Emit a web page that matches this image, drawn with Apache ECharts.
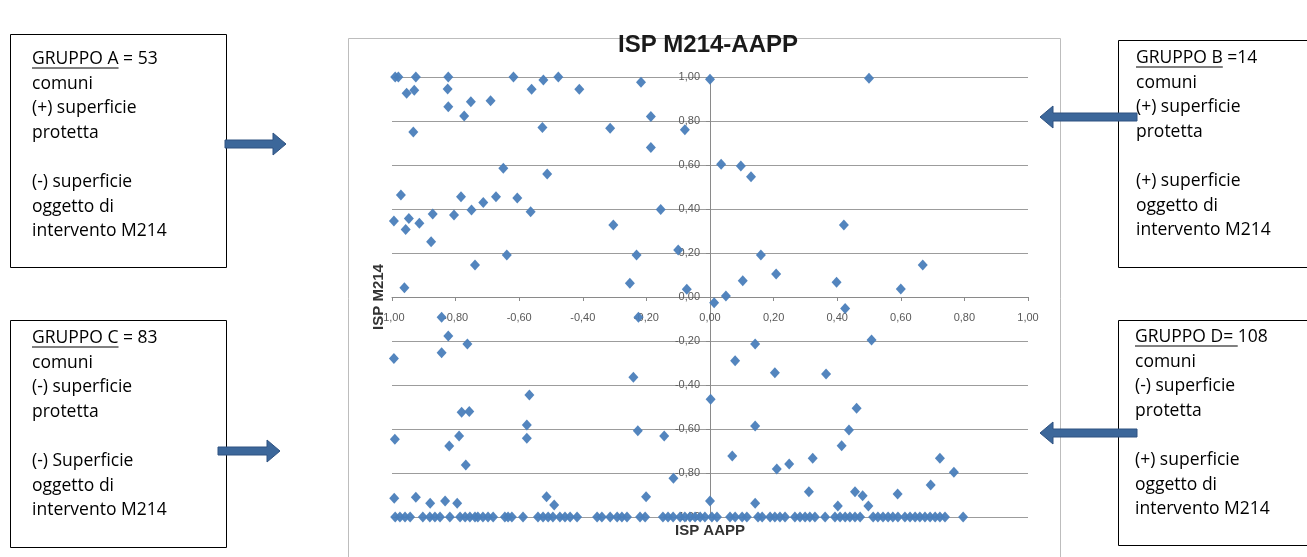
<!DOCTYPE html>
<html>
<head>
<meta charset="utf-8">
<title>ISP M214-AAPP</title>
<script src="https://cdn.jsdelivr.net/npm/echarts@6/dist/echarts.min.js"></script>
<style>
  html, body { margin: 0; padding: 0; background: #fff; }
  #main { width: 1307px; height: 557px; }
</style>
</head>
<body>
<div id="main"></div>
<script>
// valori: [ISP AAPP, ISP M214]
var gruppoA = [
  [-0.99, 1.00], [-0.98, 1.00], [-0.925, 1.00], [-0.954, 0.926], [-0.93, 0.94], [-0.933, 0.75],
  [-0.823, 1.00], [-0.825, 0.945], [-0.823, 0.865], [-0.773, 0.823], [-0.752, 0.888], [-0.69, 0.892],
  [-0.618, 1.00], [-0.561, 0.944], [-0.524, 0.986], [-0.477, 1.00], [-0.527, 0.771], [-0.411, 0.944],
  [-0.65, 0.585], [-0.512, 0.559], [-0.314, 0.767], [-0.217, 0.976], [-0.186, 0.82], [-0.186, 0.68],
  [-0.079, 0.76], [-0.972, 0.464], [-0.783, 0.456], [-0.713, 0.43], [-0.673, 0.456], [-0.606, 0.45],
  [-0.75, 0.395], [-0.805, 0.373], [-0.872, 0.377], [-0.994, 0.345], [-0.947, 0.357], [-0.957, 0.307],
  [-0.914, 0.335], [-0.877, 0.251], [-0.564, 0.388], [-0.639, 0.191], [-0.739, 0.145], [-0.961, 0.042],
  [-0.155, 0.398], [-0.304, 0.327], [-0.231, 0.191], [-0.252, 0.062], [-0.1, 0.214], [-0.073, 0.035]
];
var gruppoB = [
  [0.00, 0.99], [0.50, 0.994], [0.035, 0.603], [0.097, 0.595], [0.129, 0.547], [0.421, 0.327],
  [0.16, 0.191], [0.208, 0.105], [0.103, 0.074], [0.05, 0.005], [0.398, 0.067], [0.60, 0.036],
  [0.669, 0.145]
];
var gruppoC = [
  [-0.844, -0.092], [-0.225, -0.092], [-0.823, -0.177], [-0.763, -0.214], [-0.844, -0.253],
  [-0.994, -0.279], [-0.241, -0.365], [-0.568, -0.445], [-0.781, -0.524], [-0.757, -0.521],
  [-0.576, -0.582], [-0.576, -0.642], [-0.991, -0.647], [-0.789, -0.632], [-0.82, -0.677],
  [-0.768, -0.764], [-0.227, -0.608], [-0.144, -0.632], [-0.115, -0.824], [-0.993, -0.915],
  [-0.925, -0.91], [-0.88, -0.938], [-0.833, -0.927], [-0.795, -0.938], [-0.514, -0.908],
  [-0.49, -0.945], [-0.201, -0.908]
];
var gruppoD = [
  [0.013, -0.026], [0.425, -0.052], [0.142, -0.214], [0.508, -0.195], [0.079, -0.29], [0.204, -0.344],
  [0.365, -0.35], [0.002, -0.465], [0.461, -0.506], [0.142, -0.586], [0.437, -0.605], [0.414, -0.676],
  [0.07, -0.723], [0.21, -0.782], [0.249, -0.759], [0.323, -0.733], [0.723, -0.733], [0.767, -0.797],
  [0.694, -0.855], [0.0, -0.927], [0.142, -0.938], [0.311, -0.885], [0.456, -0.885], [0.48, -0.903],
  [0.402, -0.95], [0.498, -0.95], [0.59, -0.895]
];
// comuni con ISP M214 = -1,00 (riga in basso): solo ISP AAPP
var rigaFondoX = [
  -0.99, -0.975, -0.959, -0.943, -0.903, -0.881, -0.865, -0.849, -0.818, -0.786, -0.77, -0.755,
  -0.739, -0.73, -0.714, -0.698, -0.682, -0.645, -0.635, -0.623, -0.588, -0.541, -0.525, -0.509,
  -0.494, -0.472, -0.456, -0.44, -0.418, -0.355, -0.34, -0.314, -0.292, -0.277, -0.261, -0.22,
  -0.204, -0.148, -0.132, -0.116, -0.094, -0.079, -0.063, -0.047, -0.031, -0.016,
  0.006, 0.022, 0.063, 0.079, 0.101, 0.116, 0.151, 0.164, 0.189, 0.204, 0.22, 0.236, 0.267,
  0.283, 0.299, 0.314, 0.33, 0.362, 0.393, 0.409, 0.425, 0.44, 0.456, 0.472, 0.513, 0.528,
  0.544, 0.56, 0.575, 0.591, 0.613, 0.629, 0.645, 0.66, 0.676, 0.692, 0.708, 0.723, 0.739, 0.796
];
var rigaFondoY = -1.00;

var testoA = ['GRUPPO A = 53', 'comuni', '(+) superficie', 'protetta', '', '(-) superficie', 'oggetto di', 'intervento M214'];
var testoB = ['GRUPPO B =14', 'comuni', '(+) superficie', 'protetta', '', '(+) superficie', 'oggetto di', 'intervento M214'];
var testoC = ['GRUPPO C = 83', 'comuni', '(-) superficie', 'protetta', '', '(-) Superficie', 'oggetto di', 'intervento M214'];
var testoD = ['GRUPPO D= 108', 'comuni', '(-) superficie', 'protetta', '', '(+) superficie', 'oggetto di', 'intervento M214'];
var sottolineato = ['GRUPPO A', 'GRUPPO B', 'GRUPPO C', 'GRUPPO D= '];

var datiFondo = rigaFondoX.map(function (x) { return [x, rigaFondoY]; });
var tutti = gruppoA.concat(gruppoB, gruppoC, gruppoD, datiFondo);

var FONT_BOX = '17.5px "Open Sans"';
var LH = 24.6;
var ctx = document.createElement('canvas').getContext('2d');
ctx.font = FONT_BOX;

function fmt(v) {
  return (Math.round(v * 100) / 100).toFixed(2).replace('.', ',');
}

function riquadro(x, y, w, h, righe, sott, tx, ty) {
  var uw = ctx.measureText(sott).width;
  var uy = ty + 8.5;
  return [
    { type: 'rect', shape: { x: x + 0.5, y: y + 0.5, width: w, height: h },
      style: { fill: '#fff', stroke: '#000', lineWidth: 1 } },
    { type: 'text', style: { text: righe.join('\n'), x: tx, y: ty - LH / 2, font: FONT_BOX,
      fill: '#000', lineHeight: LH, verticalAlign: 'top' } },
    { type: 'line', shape: { x1: tx, y1: uy + 0.5, x2: tx + uw, y2: uy + 0.5 },
      style: { stroke: '#000', lineWidth: 1 } }
  ];
}

function freccia(xCoda, xPunta, y, dir) {
  var head = 13, sh = 4, hh = 11;
  var xb = xPunta - dir * head;
  return {
    type: 'polygon',
    shape: { points: [[xCoda, y - sh], [xb, y - sh], [xb, y - hh], [xPunta, y], [xb, y + hh], [xb, y + sh], [xCoda, y + sh]] },
    style: { fill: '#3C679A', stroke: '#2F5281', lineWidth: 1 }
  };
}

var myChart = echarts.init(document.getElementById('main'));

// gli assi incrociano nello zero: spostati con offset (metà larghezza / metà altezza della griglia)
var option = {
  backgroundColor: '#fff',
  animation: false,
  textStyle: { fontFamily: 'Liberation Sans' },
  title: {
    text: 'ISP M214-AAPP',
    left: 703, top: 28, textAlign: 'center',
    textStyle: { fontSize: 24, fontWeight: 'bold', color: '#1a1a1a', fontFamily: 'Liberation Sans' }
  },
  grid: { left: 392, right: 279, top: 77, bottom: 40, containLabel: false, outerBoundsMode: 'none' },
  xAxis: {
    type: 'value', min: -1, max: 1, interval: 0.2,
    position: 'bottom', offset: -220,
    name: 'ISP AAPP', nameLocation: 'middle', nameGap: 226,
    nameTextStyle: { fontSize: 15, fontWeight: 'bold', color: '#333' },
    axisLine: { show: true, onZero: false, lineStyle: { color: '#8a8a8a' } },
    axisTick: { show: true, length: 4, lineStyle: { color: '#8a8a8a' } },
    axisLabel: { formatter: fmt, margin: 15, fontSize: 11, color: '#595959' },
    splitLine: { show: false }
  },
  yAxis: {
    type: 'value', min: -1, max: 1, interval: 0.2,
    position: 'left', offset: -318,
    name: 'ISP M214', nameLocation: 'middle', nameGap: 324, nameRotate: 90,
    nameTextStyle: { fontSize: 15, fontWeight: 'bold', color: '#333' },
    axisLine: { show: true, onZero: false, lineStyle: { color: '#8a8a8a' } },
    axisTick: { show: true, length: 4, lineStyle: { color: '#8a8a8a' } },
    axisLabel: { formatter: fmt, margin: 10, fontSize: 11, color: '#595959' },
    splitLine: { show: true, lineStyle: { color: '#9c9c9c', width: 1 } }
  },
  series: [{
    type: 'scatter',
    data: tutti,
    symbol: 'diamond',
    symbolSize: [10, 11],
    clip: false,
    itemStyle: { color: '#4A7EBB', opacity: 0.95 },
    z: 5
  }],
  graphic: [
    { type: 'rect', z: -10, shape: { x: 348.5, y: 38.5, width: 712, height: 530 },
      style: { fill: 'none', stroke: '#bdbdbd', lineWidth: 1 } }
  ].concat(
    riquadro(10, 34, 216, 233, testoA, sottolineato[0], 32, 59),
    riquadro(1118, 40, 200, 227, testoB, sottolineato[1], 1136, 58),
    riquadro(10, 320, 216, 227, testoC, sottolineato[2], 32, 338),
    riquadro(1118, 320, 200, 225, testoD, sottolineato[3], 1135, 337),
    [
      freccia(225, 286, 144, 1),
      freccia(218, 280, 451, 1),
      freccia(1137, 1040, 117, -1),
      freccia(1137, 1040, 433, -1)
    ]
  )
};

myChart.setOption(option);
</script>
</body>
</html>
